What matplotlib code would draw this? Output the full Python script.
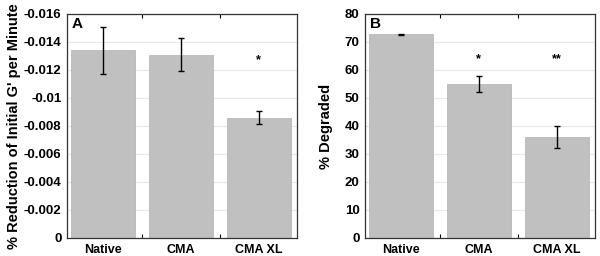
import numpy as np
import matplotlib.pyplot as plt

plt.rcParams['font.family'] = ['Liberation Sans', 'DejaVu Sans']
plt.rcParams['font.weight'] = 'bold'

# Данные
groups = ['Native', 'CMA', 'CMA XL']
rate_mean = [-0.0134, -0.0131, -0.0086]
rate_err = [0.0017, 0.0012, 0.00045]
rate_stars = ['', '', '*']
degr_mean = [72.7, 55.0, 36.0]
degr_err = [0.25, 3.0, 4.0]
degr_stars = ['', '*', '**']

bar_color = '#c0c0c0'
x = np.arange(1, len(groups) + 1)

fig = plt.figure(figsize=(6, 2.56), dpi=100)
axA = fig.add_axes([67/600, 1 - 238/256, 230/600, 224/256])
axB = fig.add_axes([365/600, 1 - 238/256, 230/600, 224/256])


def style(ax):
    ax.set_xlim(0.545, 3.49)
    ax.set_xticks([1.5, 2.5])
    ax.set_xticklabels([])
    ax.set_xticks(x, minor=True)
    ax.set_xticklabels(groups, minor=True, fontsize=9, fontweight='bold')
    ax.tick_params(axis='x', which='minor', length=0, pad=4)
    ax.tick_params(axis='x', which='major', direction='in', top=True, length=3)
    ax.tick_params(axis='y', direction='in', length=0, labelsize=9.5, pad=4)
    ax.yaxis.grid(True, color='#e8e8e8', linewidth=0.8)
    ax.set_axisbelow(True)
    for s in ax.spines.values():
        s.set_color('#333333')
        s.set_linewidth(0.9)
    for lab in ax.get_yticklabels():
        lab.set_fontweight('bold')


# Панель A
axA.bar(x, rate_mean, width=0.82, color=bar_color, edgecolor='#b0b0b0', linewidth=0.5)
axA.errorbar(x, rate_mean, yerr=rate_err, fmt='none', ecolor='black', elinewidth=1, capsize=2.5, capthick=1)
axA.set_ylim(0, -0.016)
axA.set_yticks(np.arange(0, -0.0161, -0.002))
axA.set_yticklabels(['0', '-0.002', '-0.004', '-0.006', '-0.008', '-0.01', '-0.012', '-0.014', '-0.016'])
style(axA)
axA.set_ylabel("% Reduction of Initial G' per Minute", fontsize=10.5, fontweight='bold', labelpad=2)
for xi, st in zip(x, rate_stars):
    if st:
        axA.text(xi, -0.0127, st, ha='center', va='center', fontsize=9)
axA.text(0.02, 0.985, 'A', transform=axA.transAxes, ha='left', va='top', fontsize=11, fontweight='bold')

# Панель B
axB.bar(x, degr_mean, width=0.82, color=bar_color, edgecolor='#b0b0b0', linewidth=0.5)
axB.errorbar(x, degr_mean, yerr=degr_err, fmt='none', ecolor='black', elinewidth=1, capsize=2.5, capthick=1)
axB.set_ylim(0, 80)
axB.set_yticks(np.arange(0, 81, 10))
style(axB)
axB.set_ylabel('% Degraded', fontsize=10.5, fontweight='bold', labelpad=8)
for xi, st in zip(x, degr_stars):
    if st:
        axB.text(xi, 64.0, st, ha='center', va='center', fontsize=9)
axB.text(0.02, 0.985, 'B', transform=axB.transAxes, ha='left', va='top', fontsize=11, fontweight='bold')

fig.savefig('out.png', dpi=100)
